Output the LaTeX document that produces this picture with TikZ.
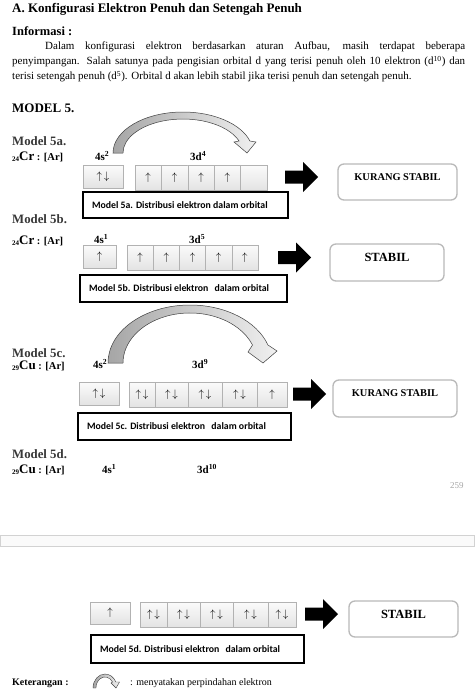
\documentclass[tikz,border=0pt]{standalone}
\usepackage{fontspec}
\setmainfont{Liberation Serif}
\newfontfamily\calfont{Carlito}
\usetikzlibrary{shadows}
\newcommand\myfs[1]{\fontsize{#1}{#1}\selectfont}
\newcommand\capt[2]{\makebox[#1][l]{#2}}
\begin{document}
\begin{tikzpicture}[x=1pt,y=-1pt,
  txt/.style={inner sep=0pt, anchor=base west},
  orb/.style={draw=gray!60, top color=gray!3, bottom color=gray!22, inner sep=0pt, line width=0.6pt,
     general shadow={fill=gray!30, shadow xshift=0.8pt, shadow yshift=-0.9pt}, font=\myfs{10.5}},
  capbox/.style={draw=black, line width=1.4pt, fill=white, inner xsep=9pt, inner ysep=0pt,
     font=\calfont\bfseries\myfs{9.8}},
  statbox/.style={draw=gray!55, line width=1.3pt, rounded corners=6pt, fill=white, inner sep=0pt},
  stattext/.style={inner sep=0pt, font=\bfseries},
  curv/.style={draw=gray!50!black, line width=0.5pt, left color=gray!70, right color=gray!12},
  modlab/.style={txt, font=\bfseries\myfs{12.8}, text=black!78},
  elab/.style={txt, font=\bfseries\myfs{10.5}},
  olab/.style={txt, font=\bfseries\myfs{11}},
  blockarr/.pic={\fill[black] (0,-6.5) -- (18,-6.5) -- (18,-15) -- (33,0) -- (18,15) -- (18,6.5) -- (0,6.5) -- cycle;}
]
\fill[white] (0,0) rectangle (474,693);
\useasboundingbox (0,0) rectangle (474,693);

% header
\node[txt, font=\bfseries\myfs{13}] (title) at (12,13) {A. Konfigurasi Elektron Penuh dan Setengah Penuh};
\node[txt, font=\bfseries\myfs{12.5}] (info) at (12,36) {Informasi :};
\node[txt, font=\myfs{11}] (p1) at (45,50) {\makebox[420pt][s]{Dalam konfigurasi elektron berdasarkan aturan Aufbau, masih terdapat beberapa}};
\node[txt, font=\myfs{11}] (p2) at (12,65) {\makebox[453pt][s]{penyimpangan. Salah satunya pada pengisian orbital d yang terisi penuh oleh 10 elektron (d\textsuperscript{10}) dan}};
\node[txt, font=\myfs{11}] (p3) at (12,80) {terisi setengah penuh (d\textsuperscript{5}). Orbital d akan lebih stabil jika terisi penuh dan setengah penuh.};
\node[txt, font=\bfseries\myfs{13}] (model) at (12,112) {MODEL 5.};

% ---------- Model 5a ----------
\node[modlab] (m5a) at (12,145) {Model 5a.};
\node[elab] (e5a) at (12,160) {\raisebox{-1.5pt}{\myfs{7}24}{\myfs{13}Cr} : [Ar]};
\node[olab] (l5a1) at (95,160) {4s\textsuperscript{2}};
\node[olab] (l5a2) at (190,160) {3d\textsuperscript{4}};
\draw[curv] (113,153) arc[start angle=180, end angle=343, x radius=70, y radius=41]
  -- (256,142) -- (247,153) -- (234,142) -- (239.1,141)
  arc[start angle=339.3, end angle=180, x radius=60, y radius=34] -- cycle;
\node[orb, minimum width=40pt, minimum height=23pt] (o5a0) at (103,176.5) {$\uparrow\,\downarrow$};
\node[orb, minimum width=26.4pt, minimum height=25pt] (o5a1) at (148.2,177.5) {$\uparrow$};
\node[orb, minimum width=26.4pt, minimum height=25pt] (o5a2) at (174.6,177.5) {$\uparrow$};
\node[orb, minimum width=26.4pt, minimum height=25pt] (o5a3) at (201.0,177.5) {$\uparrow$};
\node[orb, minimum width=26.4pt, minimum height=25pt] (o5a4) at (227.4,177.5) {$\uparrow$};
\node[orb, minimum width=26.4pt, minimum height=25pt] (o5a5) at (253.8,177.5) {};
\pic at (285,177) {blockarr};
\node[statbox, minimum width=119pt, minimum height=36pt] (s5a) at (397.5,182) {};
\node[stattext, font=\bfseries\myfs{10.4}] (t5a) at ([yshift=-13.5pt]s5a.north) {KURANG STABIL};
\node[capbox, minimum height=26pt] (c5a) at (185.5,205) {\capt{187pt}{Model 5a. Distribusi elektron dalam orbital}};

% ---------- Model 5b ----------
\node[modlab] (m5b) at (12,223) {Model 5b.};
\node[elab] (e5b) at (12,244) {\raisebox{-1.5pt}{\myfs{7}24}{\myfs{13}Cr} : [Ar]};
\node[olab] (l5b1) at (94,243) {4s\textsuperscript{1}};
\node[olab] (l5b2) at (189,243) {3d\textsuperscript{5}};
\node[orb, minimum width=33pt, minimum height=23pt] (o5b0) at (99.5,256.5) {$\uparrow$};
\node[orb, minimum width=26.2pt, minimum height=25pt] (o5b1) at (140.1,257.5) {$\uparrow$};
\node[orb, minimum width=26.2pt, minimum height=25pt] (o5b2) at (166.3,257.5) {$\uparrow$};
\node[orb, minimum width=26.2pt, minimum height=25pt] (o5b3) at (192.5,257.5) {$\uparrow$};
\node[orb, minimum width=26.2pt, minimum height=25pt] (o5b4) at (218.7,257.5) {$\uparrow$};
\node[orb, minimum width=26.2pt, minimum height=25pt] (o5b5) at (244.9,257.5) {$\uparrow$};
\pic at (278,257.5) {blockarr};
\node[statbox, minimum width=114pt, minimum height=37pt] (s5b) at (387,262.5) {};
\node[stattext, font=\bfseries\myfs{12.5}] (t5b) at ([yshift=-14pt]s5b.north) {STABIL};
\node[capbox, minimum height=27pt] (c5b) at (183.5,288.5) {\capt{189pt}{Model 5b. Distribusi elektron\hspace{4pt} dalam orbital}};

% ---------- Model 5c ----------
\draw[curv] (108,363) arc[start angle=180, end angle=341.9, x radius=82, y radius=58]
  -- (277,351) -- (263,363) -- (248,352) -- (252.5,345)
  arc[start angle=338.9, end angle=180, x radius=67, y radius=50] -- cycle;
\node[modlab] (m5c) at (12,357) {Model 5c.};
\node[elab] (e5c) at (12,369) {\raisebox{-1.5pt}{\myfs{7}29}{\myfs{13}Cu} : [Ar]};
\node[olab] (l5c1) at (93,368) {4s\textsuperscript{2}};
\node[olab] (l5c2) at (192,368) {3d\textsuperscript{9}};
\node[orb, minimum width=40pt, minimum height=23pt] (o5c0) at (99,393.5) {$\uparrow\,\downarrow$};
\node[orb, minimum width=26pt, minimum height=25pt] (o5c1) at (142,394.5) {$\uparrow\,\downarrow$};
\node[orb, minimum width=33pt, minimum height=25pt] (o5c2) at (171.5,394.5) {$\uparrow\,\downarrow$};
\node[orb, minimum width=34pt, minimum height=25pt] (o5c3) at (205,394.5) {$\uparrow\,\downarrow$};
\node[orb, minimum width=35pt, minimum height=25pt] (o5c4) at (239.5,394.5) {$\uparrow\,\downarrow$};
\node[orb, minimum width=30pt, minimum height=25pt] (o5c5) at (272,394.5) {$\uparrow$};
\pic at (293,394) {blockarr};
\node[statbox, minimum width=124pt, minimum height=37pt] (s5c) at (395,398.5) {};
\node[stattext, font=\bfseries\myfs{10.4}] (t5c) at ([yshift=-13.5pt]s5c.north) {KURANG STABIL};
\node[capbox, minimum height=27pt] (c5c) at (184.5,426.5) {\capt{195pt}{Model 5c. Distribusi elektron\hspace{4pt} dalam orbital}};

% ---------- Model 5d ----------
\node[modlab] (m5d) at (12,458) {Model 5d.};
\node[elab] (e5d) at (12,473) {\raisebox{-1.5pt}{\myfs{7}29}{\myfs{13}Cu} : [Ar]};
\node[olab] (l5d1) at (102,473) {4s\textsuperscript{1}};
\node[olab] (l5d2) at (197,473) {3d\textsuperscript{10}};
\node[txt, font=\myfs{9}, text=gray!70] (pg) at (450,488) {259};

% page break
\draw[gray!35, fill=gray!4] (0,535) rectangle (474,546);

\node[orb, minimum width=40pt, minimum height=22pt] (o5d0) at (110,613) {$\uparrow$};
\node[orb, minimum width=27pt, minimum height=25pt] (o5d1) at (153.5,614.5) {$\uparrow\,\downarrow$};
\node[orb, minimum width=33pt, minimum height=25pt] (o5d2) at (183.5,614.5) {$\uparrow\,\downarrow$};
\node[orb, minimum width=33pt, minimum height=25pt] (o5d3) at (216.5,614.5) {$\uparrow\,\downarrow$};
\node[orb, minimum width=35pt, minimum height=25pt] (o5d4) at (250.5,614.5) {$\uparrow\,\downarrow$};
\node[orb, minimum width=28pt, minimum height=25pt] (o5d5) at (282,614.5) {$\uparrow\,\downarrow$};
\pic at (305,614) {blockarr};
\node[statbox, minimum width=109pt, minimum height=36pt] (s5d) at (403.5,619) {};
\node[stattext, font=\bfseries\myfs{12.5}] (t5d) at ([yshift=-14pt]s5d.north) {STABIL};
\node[capbox, minimum height=28pt] (c5d) at (197.5,649) {\capt{195pt}{Model 5d. Distribusi elektron\hspace{4pt} dalam orbital}};

% legend
\node[txt, font=\bfseries\myfs{10}] (ket) at (12,685) {Keterangan :};
\draw[curv, line width=0.4pt] (93,688) arc[start angle=180, end angle=334.6, x radius=12, y radius=14]
  -- (119.5,682) -- (116,688) -- (111,683) -- (112.5,682)
  arc[start angle=327, end angle=180, x radius=9, y radius=11] -- cycle;
\node[txt, font=\myfs{10}] (ketx) at (130,685) {: menyatakan perpindahan elektron};
\end{tikzpicture}
\end{document}
